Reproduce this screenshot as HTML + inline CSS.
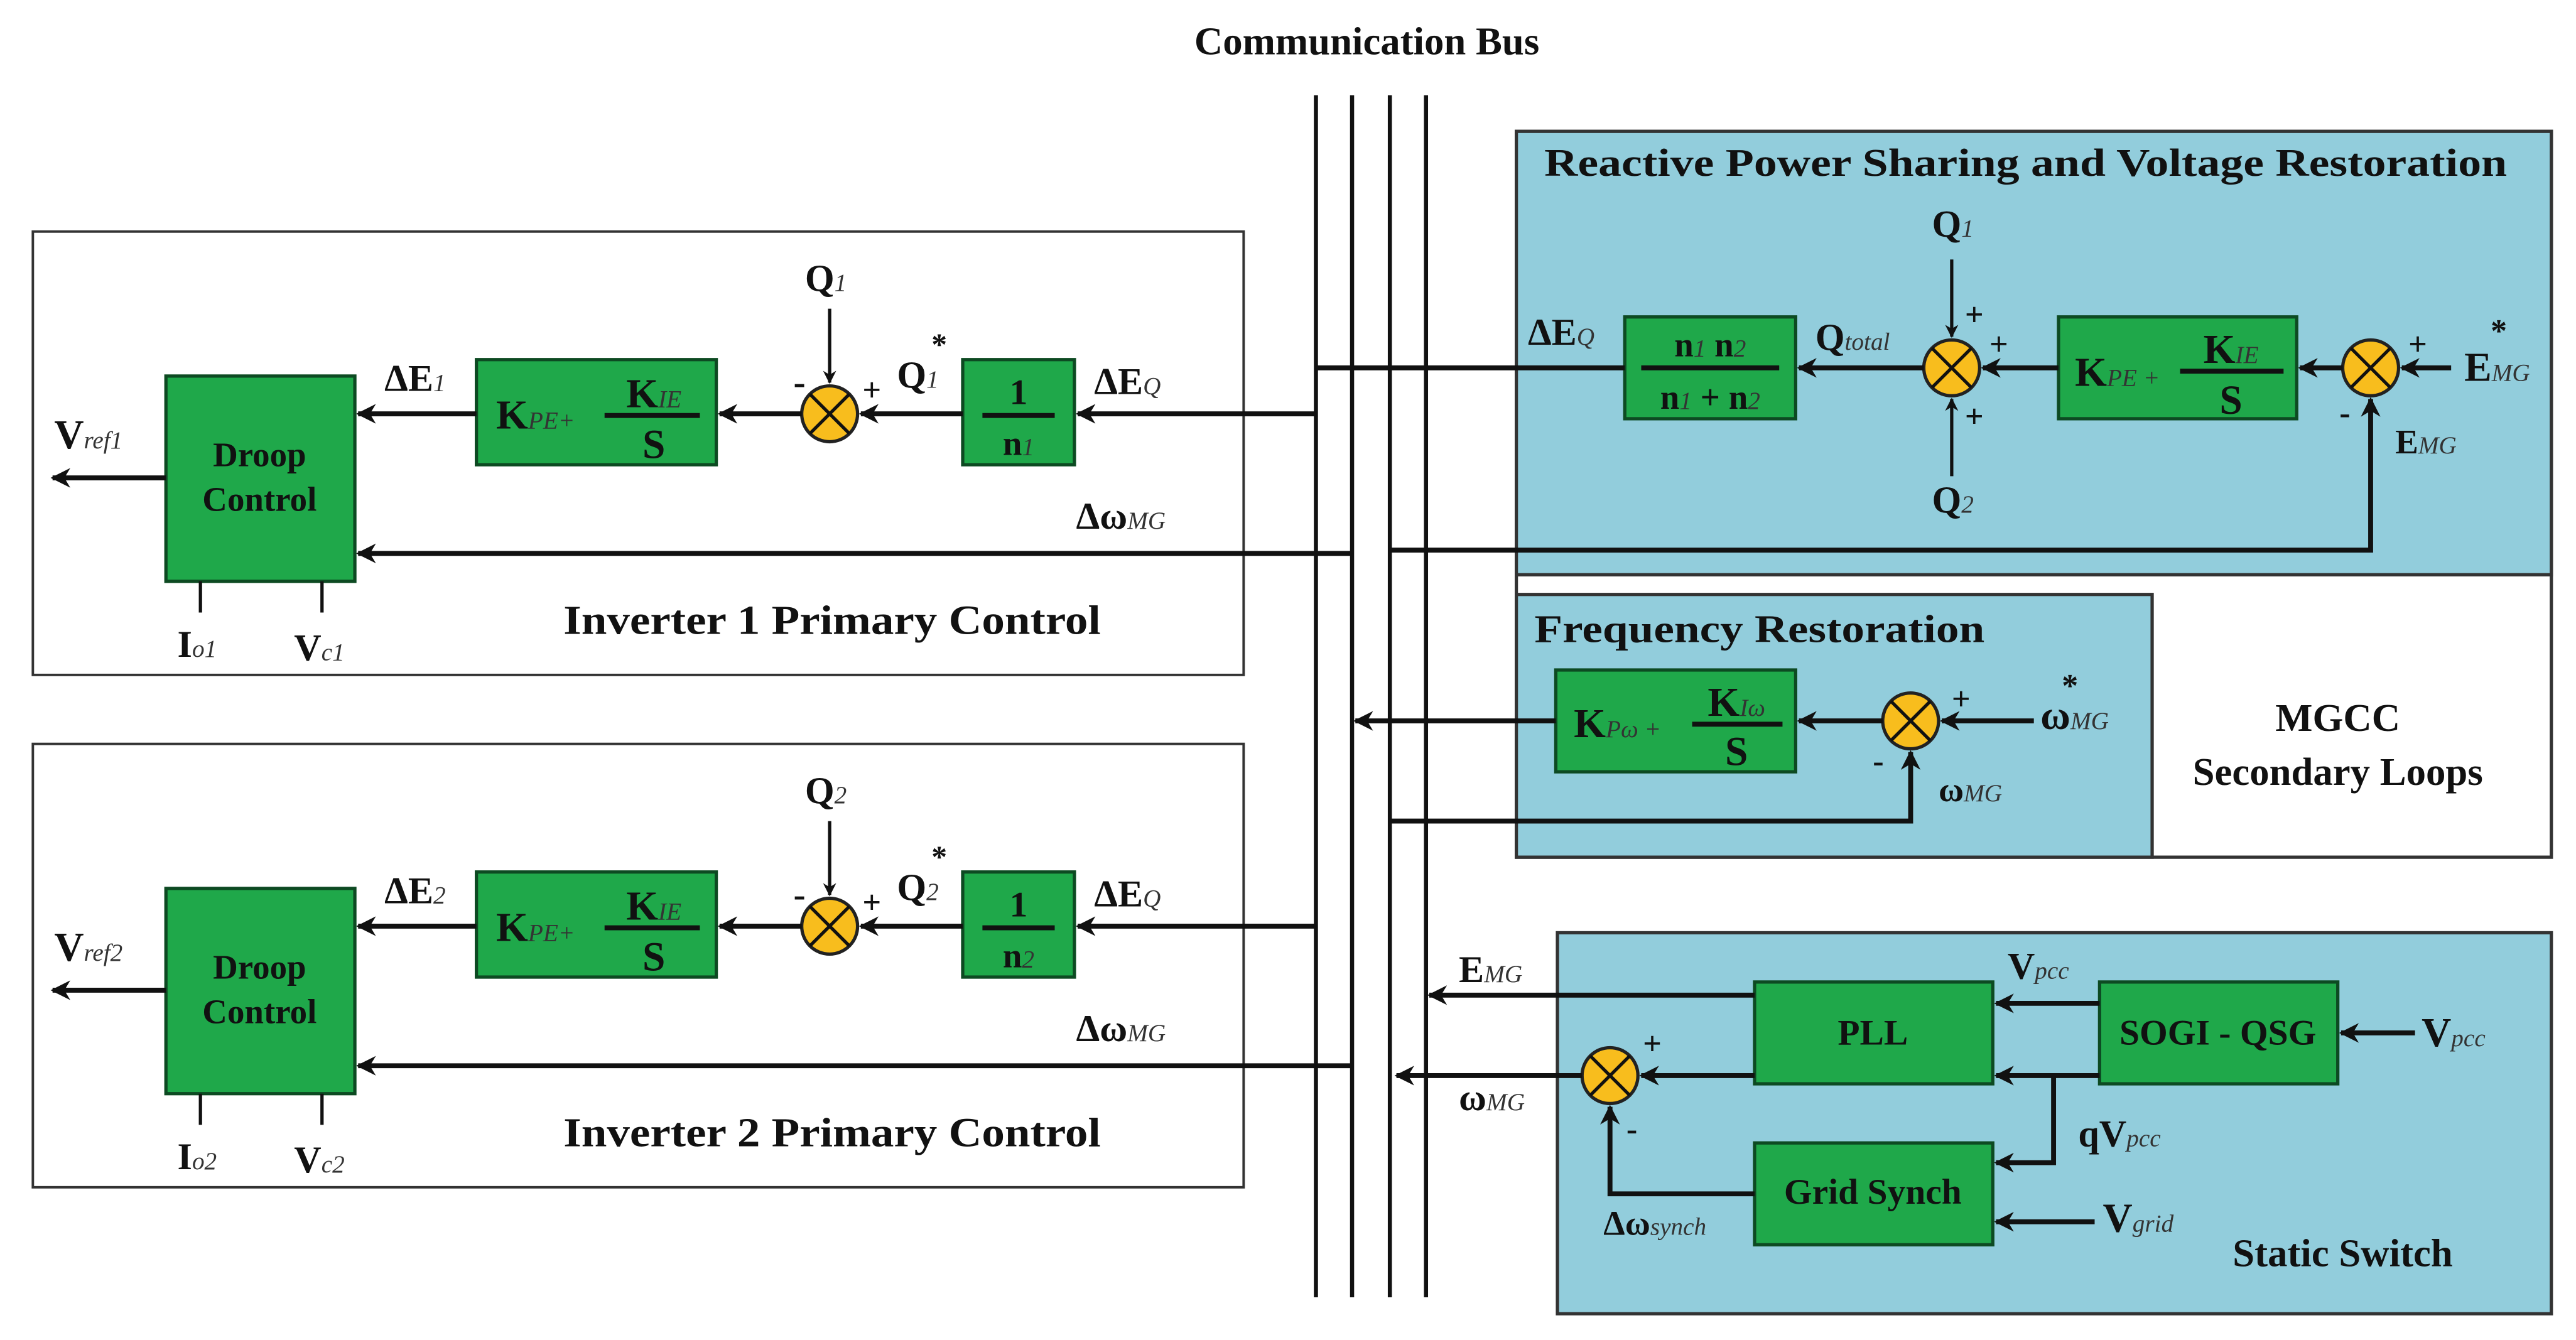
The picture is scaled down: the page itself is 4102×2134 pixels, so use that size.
<!DOCTYPE html>
<html><head><meta charset="utf-8"><style>
html,body{margin:0;padding:0;background:#fff}
svg{display:block}
text{font-family:"Liberation Serif","DejaVu Serif","Times New Roman",serif;font-weight:bold;fill:#111}
.s{font-style:italic;font-weight:normal;font-size:15px;fill:#333}
.b{fill:#1fa84a;stroke:#0d4a22;stroke-width:2}
.c{fill:#f8bd1d;stroke:#222;stroke-width:2}
.l{stroke:#111;stroke-width:3;fill:none}
.th{stroke:#111;stroke-width:2;fill:none}
</style></head><body>
<svg width="4102" height="2134" viewBox="0 0 1568 816" preserveAspectRatio="none" xmlns="http://www.w3.org/2000/svg">
<defs>
<marker id="a" viewBox="0 0 10 10" refX="9" refY="5" markerWidth="4" markerHeight="4" orient="auto"><path d="M0,0 L10,5 L0,10 L3,5 z" fill="#111"/></marker>
<g id="sum"><circle r="17" class="c"/><path d="M-12,-12 L12,12 M12,-12 L-12,12" class="th"/></g>
</defs>
<rect width="1568" height="816" fill="#fff"/>
<text x="832" y="33" font-size="24" text-anchor="middle">Communication Bus</text>

<rect x="923" y="80" width="630" height="442" fill="#fff" stroke="#333" stroke-width="2"/>
<rect x="923" y="80" width="630" height="270" fill="#92cddc" stroke="#333" stroke-width="2"/>
<rect x="923" y="362" width="387" height="160" fill="#92cddc" stroke="#333" stroke-width="2"/>
<rect x="948" y="568" width="605" height="232" fill="#92cddc" stroke="#333" stroke-width="2"/>

<rect x="20" y="141" width="737" height="270" fill="#fff" stroke="#333" stroke-width="1.5"/>
<rect x="20" y="453" width="737" height="270" fill="#fff" stroke="#333" stroke-width="1.5"/>

<g>
<rect x="101" y="229" width="115" height="125" class="b"/>
<text x="158" y="284" font-size="21" text-anchor="middle">Droop</text>
<text x="158" y="311" font-size="21" text-anchor="middle">Control</text>
<rect x="290" y="219" width="146" height="64" class="b"/>
<text x="302" y="261" font-size="25">K<tspan class="s">PE+</tspan></text>
<line x1="368" y1="253" x2="426" y2="253" stroke="#111" stroke-width="3"/>
<text x="398" y="248" font-size="25" text-anchor="middle">K<tspan class="s">IE</tspan></text>
<text x="398" y="279" font-size="25" text-anchor="middle">S</text>
<rect x="586" y="219" width="68" height="64" class="b"/>
<line x1="598" y1="253" x2="642" y2="253" stroke="#111" stroke-width="3"/>
<text x="620" y="246" font-size="22" text-anchor="middle">1</text>
<use href="#sum" x="505" y="252"/>
<path d="M801,252 H656" class="l" marker-end="url(#a)"/>
<path d="M586,252 H524" class="l" marker-end="url(#a)"/>
<path d="M488,252 H438" class="l" marker-end="url(#a)"/>
<path d="M290,252 H218" class="l" marker-end="url(#a)"/>
<path d="M505,188 V233" class="th" marker-end="url(#a)"/>
<path d="M101,291 H32" class="l" marker-end="url(#a)"/>
<path d="M823,337 H218" class="l" marker-end="url(#a)"/>
<path d="M122,354 V373 M196,354 V373" class="th"/>
<text x="483" y="240" font-size="22">-</text>
<text x="525" y="244" font-size="20">+</text>
<text x="343" y="386" font-size="25" textLength="327" lengthAdjust="spacingAndGlyphs">Inverter 1 Primary Control</text>
</g>
<text x="33" y="273" font-size="25">V<tspan class="s">ref1</tspan></text>
<text x="234" y="238" font-size="23">ΔE<tspan class="s">1</tspan></text>
<text x="490" y="177" font-size="23">Q<tspan class="s">1</tspan></text>
<text x="546" y="236" font-size="23">Q<tspan class="s">1</tspan></text>
<text x="567" y="216" font-size="19">*</text>
<text x="620" y="277" font-size="21" text-anchor="middle">n<tspan class="s">1</tspan></text>
<text x="666" y="240" font-size="23">ΔE<tspan class="s">Q</tspan></text>
<text x="655" y="322" font-size="23">Δω<tspan class="s">MG</tspan></text>
<text x="108" y="400" font-size="23">I<tspan class="s">o1</tspan></text>
<text x="179" y="402" font-size="23">V<tspan class="s">c1</tspan></text>

<g transform="translate(0,312)">
<rect x="101" y="229" width="115" height="125" class="b"/>
<text x="158" y="284" font-size="21" text-anchor="middle">Droop</text>
<text x="158" y="311" font-size="21" text-anchor="middle">Control</text>
<rect x="290" y="219" width="146" height="64" class="b"/>
<text x="302" y="261" font-size="25">K<tspan class="s">PE+</tspan></text>
<line x1="368" y1="253" x2="426" y2="253" stroke="#111" stroke-width="3"/>
<text x="398" y="248" font-size="25" text-anchor="middle">K<tspan class="s">IE</tspan></text>
<text x="398" y="279" font-size="25" text-anchor="middle">S</text>
<rect x="586" y="219" width="68" height="64" class="b"/>
<line x1="598" y1="253" x2="642" y2="253" stroke="#111" stroke-width="3"/>
<text x="620" y="246" font-size="22" text-anchor="middle">1</text>
<use href="#sum" x="505" y="252"/>
<path d="M801,252 H656" class="l" marker-end="url(#a)"/>
<path d="M586,252 H524" class="l" marker-end="url(#a)"/>
<path d="M488,252 H438" class="l" marker-end="url(#a)"/>
<path d="M290,252 H218" class="l" marker-end="url(#a)"/>
<path d="M505,188 V233" class="th" marker-end="url(#a)"/>
<path d="M101,291 H32" class="l" marker-end="url(#a)"/>
<path d="M823,337 H218" class="l" marker-end="url(#a)"/>
<path d="M122,354 V373 M196,354 V373" class="th"/>
<text x="483" y="240" font-size="22">-</text>
<text x="525" y="244" font-size="20">+</text>
<text x="343" y="386" font-size="25" textLength="327" lengthAdjust="spacingAndGlyphs">Inverter 2 Primary Control</text>
<text x="33" y="273" font-size="25">V<tspan class="s">ref2</tspan></text>
<text x="234" y="238" font-size="23">ΔE<tspan class="s">2</tspan></text>
<text x="490" y="177" font-size="23">Q<tspan class="s">2</tspan></text>
<text x="546" y="236" font-size="23">Q<tspan class="s">2</tspan></text>
<text x="567" y="216" font-size="19">*</text>
<text x="620" y="277" font-size="21" text-anchor="middle">n<tspan class="s">2</tspan></text>
<text x="666" y="240" font-size="23">ΔE<tspan class="s">Q</tspan></text>
<text x="655" y="322" font-size="23">Δω<tspan class="s">MG</tspan></text>
<text x="108" y="400" font-size="23">I<tspan class="s">o2</tspan></text>
<text x="179" y="402" font-size="23">V<tspan class="s">c2</tspan></text>
</g>

<text x="940" y="107" font-size="24" textLength="586" lengthAdjust="spacingAndGlyphs">Reactive Power Sharing and Voltage Restoration</text>
<rect x="989" y="193" width="104" height="62" class="b"/>
<line x1="999" y1="224" x2="1083" y2="224" stroke="#111" stroke-width="3"/>
<text x="1041" y="217" font-size="21" text-anchor="middle">n<tspan class="s">1</tspan> n<tspan class="s">2</tspan></text>
<text x="1041" y="249" font-size="21" text-anchor="middle">n<tspan class="s">1</tspan> + n<tspan class="s">2</tspan></text>
<use href="#sum" x="1188" y="224"/>
<rect x="1253" y="193" width="145" height="62" class="b"/>
<text x="1263" y="235" font-size="25">K<tspan class="s">PE</tspan><tspan class="s"> +</tspan></text>
<line x1="1327" y1="226" x2="1390" y2="226" stroke="#111" stroke-width="3"/>
<text x="1358" y="221" font-size="25" text-anchor="middle">K<tspan class="s">IE</tspan></text>
<text x="1358" y="252" font-size="25" text-anchor="middle">S</text>
<use href="#sum" x="1443" y="224"/>
<path d="M989,224 H801" class="l"/>
<path d="M1171,224 H1095" class="l" marker-end="url(#a)"/>
<path d="M1253,224 H1207" class="l" marker-end="url(#a)"/>
<path d="M1426,224 H1400" class="l" marker-end="url(#a)"/>
<path d="M1492,224 H1462" class="l" marker-end="url(#a)"/>
<path d="M1188,158 V205" class="th" marker-end="url(#a)"/>
<path d="M1188,290 V243" class="th" marker-end="url(#a)"/>
<path d="M846,335 H1443 V243" class="l" marker-end="url(#a)"/>
<text x="1176" y="144" font-size="23">Q<tspan class="s">1</tspan></text>
<text x="1176" y="312" font-size="23">Q<tspan class="s">2</tspan></text>
<text x="1196" y="198" font-size="20">+</text>
<text x="1196" y="260" font-size="20">+</text>
<text x="1211" y="216" font-size="20">+</text>
<text x="1105" y="213" font-size="23">Q<tspan class="s">total</tspan></text>
<text x="930" y="210" font-size="23">ΔE<tspan class="s">Q</tspan></text>
<text x="1466" y="216" font-size="20">+</text>
<text x="1424" y="258" font-size="20">-</text>
<text x="1500" y="232" font-size="25">E<tspan class="s">MG</tspan></text>
<text x="1516" y="208" font-size="20">*</text>
<text x="1458" y="276" font-size="21">E<tspan class="s">MG</tspan></text>

<text x="934" y="391" font-size="24" textLength="274" lengthAdjust="spacingAndGlyphs">Frequency Restoration</text>
<rect x="947" y="408" width="146" height="62" class="b"/>
<text x="958" y="449" font-size="25">K<tspan class="s">Pω</tspan><tspan class="s"> +</tspan></text>
<line x1="1030" y1="441" x2="1085" y2="441" stroke="#111" stroke-width="3"/>
<text x="1057" y="436" font-size="25" text-anchor="middle">K<tspan class="s">Iω</tspan></text>
<text x="1057" y="466" font-size="25" text-anchor="middle">S</text>
<use href="#sum" x="1163" y="439"/>
<path d="M1146,439 H1095" class="l" marker-end="url(#a)"/>
<path d="M947,439 H825" class="l" marker-end="url(#a)"/>
<path d="M1238,439 H1182" class="l" marker-end="url(#a)"/>
<path d="M846,500 H1163 V458" class="l" marker-end="url(#a)"/>
<text x="1188" y="432" font-size="20">+</text>
<text x="1140" y="470" font-size="20">-</text>
<text x="1242" y="444" font-size="25">ω<tspan class="s">MG</tspan></text>
<text x="1255" y="424" font-size="20">*</text>
<text x="1180" y="488" font-size="21">ω<tspan class="s">MG</tspan></text>
<text x="1423" y="445" font-size="24" text-anchor="middle">MGCC</text>
<text x="1423" y="478" font-size="24" text-anchor="middle">Secondary Loops</text>

<rect x="1068" y="598" width="145" height="62" class="b"/>
<text x="1140" y="636" font-size="22" text-anchor="middle">PLL</text>
<rect x="1278" y="598" width="145" height="62" class="b"/>
<text x="1350" y="636" font-size="22" text-anchor="middle">SOGI - QSG</text>
<rect x="1068" y="696" width="145" height="62" class="b"/>
<text x="1140" y="733" font-size="22" text-anchor="middle">Grid Synch</text>
<use href="#sum" x="980" y="655"/>
<path d="M1068,606 H870" class="l" marker-end="url(#a)"/>
<path d="M963,655 H850" class="l" marker-end="url(#a)"/>
<path d="M1068,655 H999" class="l" marker-end="url(#a)"/>
<path d="M1278,611 H1215" class="l" marker-end="url(#a)"/>
<path d="M1278,655 H1215" class="l" marker-end="url(#a)"/>
<path d="M1250,655 V708 H1215" class="l" marker-end="url(#a)"/>
<path d="M1275,744 H1215" class="l" marker-end="url(#a)"/>
<path d="M1470,629 H1425" class="l" marker-end="url(#a)"/>
<path d="M1068,727 H980 V674" class="l" marker-end="url(#a)"/>
<text x="1000" y="642" font-size="20">+</text>
<text x="990" y="694" font-size="20">-</text>
<text x="888" y="598" font-size="23">E<tspan class="s">MG</tspan></text>
<text x="888" y="676" font-size="23">ω<tspan class="s">MG</tspan></text>
<text x="1222" y="596" font-size="23">V<tspan class="s">pcc</tspan></text>
<text x="1474" y="637" font-size="25">V<tspan class="s">pcc</tspan></text>
<text x="1265" y="698" font-size="23">qV<tspan class="s">pcc</tspan></text>
<text x="1280" y="750" font-size="25">V<tspan class="s">grid</tspan></text>
<text x="976" y="752" font-size="21">Δω<tspan class="s">synch</tspan></text>
<text x="1426" y="771" font-size="24" text-anchor="middle">Static Switch</text>

<path d="M801,58 V790 M823,58 V790 M846,58 V790 M868,58 V790" stroke="#111" stroke-width="2.5"/>
</svg>
</body></html>
